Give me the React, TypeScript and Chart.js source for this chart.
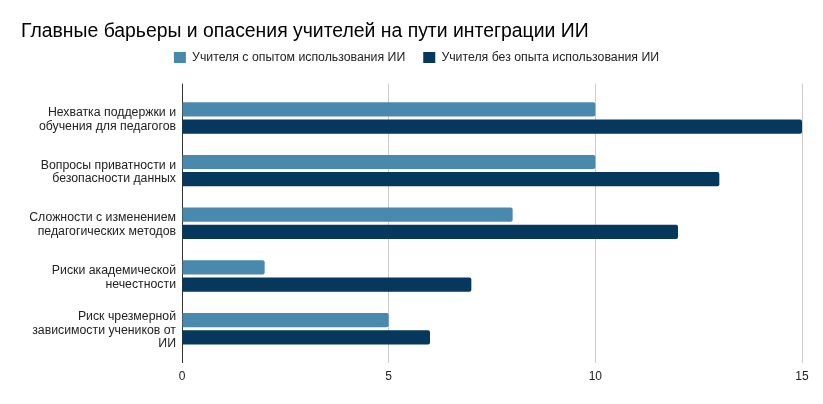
import React, { useEffect, useRef } from 'react';
import { Chart, registerables } from 'chart.js';

Chart.register(...registerables);

const FONT = '"Liberation Sans", Arial, sans-serif';

const chartTitle = 'Главные барьеры и опасения учителей на пути интеграции ИИ';
const categories: string[][] = [
  ['Нехватка поддержки и', 'обучения для педагогов'],
  ['Вопросы приватности и', 'безопасности данных'],
  ['Сложности с изменением', 'педагогических методов'],
  ['Риски академической', 'нечестности'],
  ['Риск чрезмерной', 'зависимости учеников от', 'ИИ'],
];
const seriesNames = ['Учителя с опытом использования ИИ', 'Учителя без опыта использования ИИ'];
const withExperience = [10, 10, 8, 2, 5];
const withoutExperience = [15, 13, 12, 7, 6];
const xTicks = [0, 5, 10, 15];

// les lignes de grille dépassent un peu la zone du graphique (haut et bas)
const gridExtend = {
  id: 'gridExtend',
  afterDraw(chart: any) {
    const { ctx, chartArea, scales } = chart;
    const x = scales.x;
    ctx.save();
    ctx.lineWidth = 1;
    x.ticks.forEach((t: any) => {
      const px = Math.round(x.getPixelForValue(t.value) - 0.5) + 0.5;
      ctx.strokeStyle = t.value === 0 ? '#333333' : '#cccccc';
      ctx.beginPath();
      ctx.moveTo(px, chartArea.top - 8);
      ctx.lineTo(px, chartArea.top);
      ctx.moveTo(px, chartArea.bottom);
      ctx.lineTo(px, chartArea.bottom + 8);
      ctx.stroke();
    });
    ctx.restore();
  },
};

const BarriersChart: React.FC = () => {
  const chartRef = useRef<HTMLCanvasElement>(null);
  const chartInstance = useRef<Chart | null>(null);

  useEffect(() => {
    if (!chartRef.current) return;
    const ctx = chartRef.current.getContext('2d');
    if (chartInstance.current) chartInstance.current.destroy();

    chartInstance.current = new Chart(ctx as CanvasRenderingContext2D, {
      type: 'bar',
      data: {
        labels: categories,
        datasets: [
          {
            label: seriesNames[0],
            data: withExperience,
            backgroundColor: '#4a89ae',
            borderWidth: 0,
            borderRadius: 2,
            xAxisID: 'x',
            yAxisID: 'y',
          },
          {
            label: seriesNames[1],
            data: withoutExperience,
            backgroundColor: '#05385c',
            borderWidth: 0,
            borderRadius: 2,
            xAxisID: 'x',
            yAxisID: 'y',
          },
        ],
      },
      options: {
        indexAxis: 'y',
        animation: false,
        responsive: false,
        datasets: {
          bar: { categoryPercentage: 0.654, barPercentage: 0.826 },
        },
        layout: { padding: { left: 21, right: 11, top: 0, bottom: 0 } },
        plugins: {
          title: {
            display: true,
            text: chartTitle,
            align: 'start',
            color: '#000000',
            font: { family: FONT, size: 19.4, weight: 'normal' },
            padding: { top: 20, bottom: -10 },
          },
          legend: {
            position: 'top',
            align: 'center',
            labels: {
              boxWidth: 12,
              boxHeight: 11,
              padding: 18,
              color: '#222222',
              font: { family: FONT, size: 12.3 },
            },
          },
          tooltip: { enabled: false },
        },
        scales: {
          x: {
            type: 'linear',
            position: 'bottom',
            min: 0,
            max: 15,
            afterBuildTicks: (s: any) => {
              s.ticks = xTicks.map((v) => ({ value: v }));
            },
            grid: { color: '#cccccc', lineWidth: 1, drawTicks: false },
            border: { display: false },
            ticks: { padding: 14, color: '#222222', font: { family: FONT, size: 12 } },
            afterFit: (s: any) => {
              s.height = 49;
            },
          },
          xt: {
            type: 'linear',
            position: 'top',
            ticks: { display: false },
            grid: { display: false },
            border: { display: false },
            afterFit: (s: any) => {
              s.height = 18;
            },
          },
          y: {
            type: 'category',
            position: 'left',
            grid: { display: false, drawTicks: false },
            border: { display: true, color: '#333333', width: 1 },
            ticks: {
              padding: 6,
              labelOffset: 1.5,
              color: '#222222',
              font: { family: FONT, size: 12.3, lineHeight: 1.1 },
            },
            afterFit: (s: any) => {
              s.width = 161;
            },
          },
          yr: {
            type: 'category',
            position: 'right',
            ticks: { display: false },
            grid: { display: false },
            border: { display: false },
            afterFit: (s: any) => {
              s.width = 10;
            },
          },
        },
      } as any,
      plugins: [gridExtend],
    });

    return () => {
      if (chartInstance.current) {
        chartInstance.current.destroy();
        chartInstance.current = null;
      }
    };
  }, []);

  return (
    <canvas
      ref={chartRef}
      width={823}
      height={404}
      style={{ position: 'absolute', left: 0, top: 0, width: 823, height: 404, background: '#ffffff' }}
    />
  );
};

export default function App() {
  return <BarriersChart />;
}
